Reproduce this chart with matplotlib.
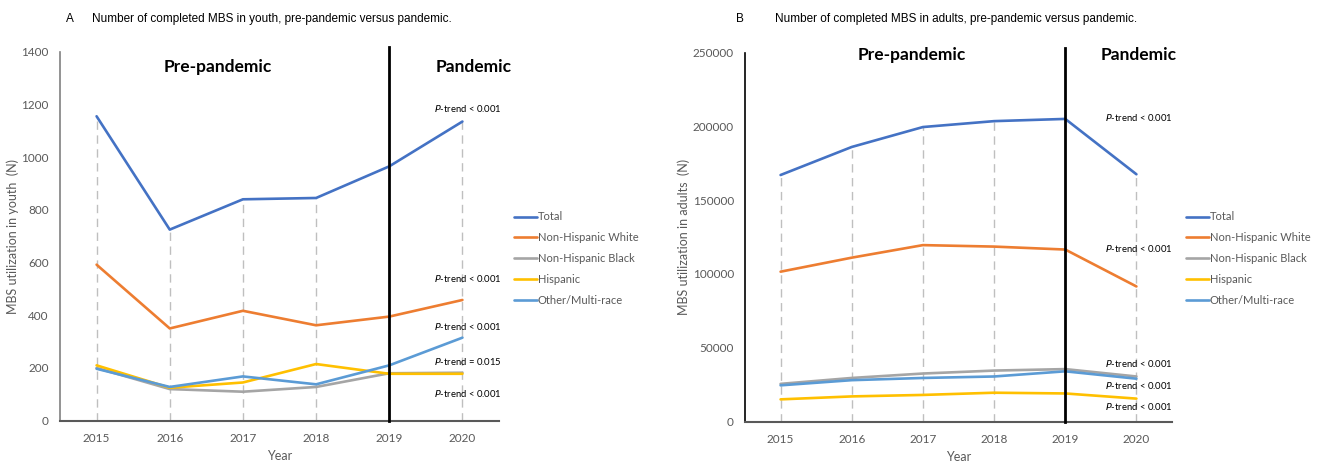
import matplotlib.pyplot as plt

plt.rcParams["font.family"] = ["Lato", "DejaVu Sans"]

years = [2015, 2016, 2017, 2018, 2019, 2020]
groups = ["Total", "Non-Hispanic White", "Non-Hispanic Black", "Hispanic", "Other/Multi-race"]
colors = ["#4472C4", "#ED7D31", "#A5A5A5", "#FFC000", "#5B9BD5"]

# youth (panel A)
youth_total = [1155, 725, 840, 845, 965, 1135]
youth_white = [592, 350, 417, 362, 395, 458]
youth_black = [200, 120, 110, 128, 180, 182]
youth_hisp = [210, 125, 145, 215, 178, 178]
youth_other = [197, 128, 168, 138, 210, 315]

# adults (panel B)
adult_total = [167000, 186000, 199500, 203500, 205000, 167500]
adult_white = [101500, 111000, 119500, 118500, 116500, 91500]
adult_black = [25500, 29500, 32500, 34500, 35500, 30500]
adult_hisp = [15000, 17000, 18000, 19500, 19000, 15500]
adult_other = [24500, 28000, 29500, 30500, 34000, 29000]

youth_ptext = ["< 0.001", "< 0.001", "< 0.001", "= 0.015", "< 0.001"]
youth_py = [1186, 541, 356, 223, 105]
adult_ptext = ["< 0.001", "< 0.001", "< 0.001", "< 0.001", "< 0.001"]
adult_py = [206300, 116900, 39000, 24100, 10500]

W, H = 1318, 461
fig = plt.figure(figsize=(W / 100, H / 100), dpi=100)

grey = "#595959"


def panel(rect, series, ymax, ystep, ylabel, ptexts, pys, px, pre_xy, pan_xy, leg_xy, spine_col):
    ax = fig.add_axes(rect)
    ax.set_xlim(2014.5, 2020.5)
    ax.set_ylim(0, ymax)
    total = series[0]
    # dashed drop lines up to the total
    for yr, v in zip(years, total):
        if yr != 2019:
            ax.plot([yr, yr], [0, v], color="#BFBFBF", lw=1.0, ls=(0, (6, 4)), zorder=1)
    for vals, name, c in zip(series, groups, colors):
        ax.plot(years, vals, color=c, lw=1.9, label=name, zorder=3,
                solid_joinstyle="round", solid_capstyle="round")
    ax.plot([2019, 2019], [0, ymax * 1.013], color="black", lw=2.0, zorder=4, clip_on=False)

    ax.set_xticks(years)
    ax.set_yticks(range(0, ymax + 1, ystep))
    ax.tick_params(axis="both", length=0, labelsize=8.5, labelcolor=grey, pad=8)
    ax.tick_params(axis="x", pad=9)
    for s in ["top", "right"]:
        ax.spines[s].set_visible(False)
    ax.spines["left"].set_color(spine_col)
    ax.spines["left"].set_linewidth(1.2)
    ax.spines["bottom"].set_color(grey)
    ax.spines["bottom"].set_linewidth(1.5)
    ax.set_xlabel("Year", fontsize=9, color=grey, labelpad=4)
    ax.set_ylabel(ylabel, fontsize=9, color=grey, labelpad=2)

    ax.text(pre_xy[0], pre_xy[1], "Pre-pandemic", ha="center", va="center",
            fontsize=12.5, fontweight="bold", color="black")
    ax.text(pan_xy[0], pan_xy[1], "Pandemic", ha="center", va="center",
            fontsize=12.5, fontweight="bold", color="black")
    for t, y in zip(ptexts, pys):
        ax.text(px, y, r"$\it{P}$" + "-trend " + t, ha="center", va="center",
                fontsize=6.8, color="black")

    ax.legend(loc="upper left", bbox_to_anchor=leg_xy, bbox_transform=fig.transFigure,
              frameon=False, fontsize=8, handlelength=2.0, handletextpad=0.1,
              labelspacing=0.88, borderaxespad=0, labelcolor=grey)
    return ax


panel([60 / W, 1 - 420.7 / H, (499 - 60) / W, (420.7 - 51.7) / H],
      [youth_total, youth_white, youth_black, youth_hisp, youth_other],
      1400, 200, "MBS utilization in youth  (N)",
      youth_ptext, youth_py, 2020.08,
      (2016.65, 1342), (2020.15, 1342), (510 / W, 1 - 207 / H), "#808080")

panel([745 / W, 1 - 421.5 / H, (1172 - 745) / W, (421.5 - 52.5) / H],
      [adult_total, adult_white, adult_black, adult_hisp, adult_other],
      250000, 50000, "MBS utilization in adults  (N)",
      adult_ptext, adult_py, 2020.03,
      (2016.85, 248300), (2020.03, 248300), (1182 / W, 1 - 207 / H), "black")

title_font = ["Liberation Sans", "DejaVu Sans"]
fig.text(66 / W, 1 - 19 / H, "A", fontsize=8.5, va="center", family=title_font)
fig.text(92 / W, 1 - 19 / H, "Number of completed MBS in youth, pre-pandemic versus pandemic.",
         fontsize=8.5, va="center", family=title_font)
fig.text(736 / W, 1 - 19 / H, "B", fontsize=8.5, va="center", family=title_font)
fig.text(775 / W, 1 - 19 / H, "Number of completed MBS in adults, pre-pandemic versus pandemic.",
         fontsize=8.5, va="center", family=title_font)

fig.savefig("out.png", dpi=100)
